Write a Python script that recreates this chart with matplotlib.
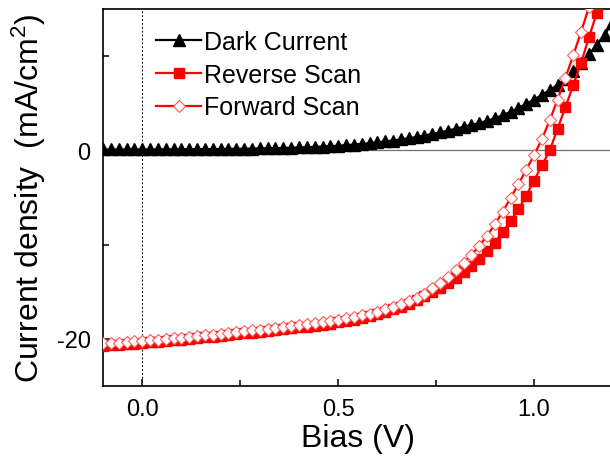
import matplotlib
matplotlib.use("Agg")
import matplotlib.pyplot as plt
from matplotlib.ticker import MultipleLocator

plt.rcParams['font.family'] = ['Liberation Sans', 'DejaVu Sans']
plt.rcParams['mathtext.fontset'] = 'custom'
plt.rcParams['mathtext.rm'] = 'Liberation Sans'
plt.rcParams['mathtext.it'] = 'Liberation Sans'
plt.rcParams['axes.unicode_minus'] = False

# bias grid (V)
bias = [-0.10, -0.08, -0.06, -0.04, -0.02, 0.00, 0.02, 0.04, 0.06, 0.08,
        0.10, 0.12, 0.14, 0.16, 0.18, 0.20, 0.22, 0.24, 0.26, 0.28,
        0.30, 0.32, 0.34, 0.36, 0.38, 0.40, 0.42, 0.44, 0.46, 0.48,
        0.50, 0.52, 0.54, 0.56, 0.58, 0.60, 0.62, 0.64, 0.66, 0.68,
        0.70, 0.72, 0.74, 0.76, 0.78, 0.80, 0.82, 0.84, 0.86, 0.88,
        0.90, 0.92, 0.94, 0.96, 0.98, 1.00, 1.02, 1.04, 1.06, 1.08,
        1.10, 1.12, 1.14, 1.16, 1.18, 1.20]

# current density (mA/cm2)
dark = [0.10, 0.10, 0.10, 0.10, 0.10, 0.10, 0.10, 0.11, 0.11, 0.11,
        0.12, 0.12, 0.13, 0.13, 0.14, 0.15, 0.16, 0.17, 0.18, 0.19,
        0.21, 0.22, 0.24, 0.26, 0.28, 0.31, 0.34, 0.37, 0.41, 0.45,
        0.50, 0.56, 0.62, 0.69, 0.77, 0.86, 0.95, 1.05, 1.16, 1.28,
        1.42, 1.58, 1.75, 1.92, 2.10, 2.30, 2.50, 2.70, 2.90, 3.15,
        3.40, 3.75, 4.10, 4.50, 4.95, 5.40, 5.90, 6.40, 6.95, 7.60,
        8.40, 9.30, 10.20, 11.20, 12.30, 13.50]

reverse = [-20.75, -20.70, -20.64, -20.58, -20.52, -20.45, -20.38, -20.31, -20.24, -20.17,
           -20.10, -20.02, -19.94, -19.86, -19.78, -19.70, -19.61, -19.52, -19.43, -19.34,
           -19.25, -19.16, -19.07, -18.98, -18.89, -18.80, -18.70, -18.60, -18.49, -18.38,
           -18.26, -18.12, -17.97, -17.80, -17.61, -17.40, -17.16, -16.89, -16.59, -16.26,
           -15.90, -15.50, -15.06, -14.58, -14.06, -13.50, -12.90, -12.25, -11.50, -10.70,
           -9.80, -8.70, -7.50, -6.25, -4.80, -3.20, -1.60, 0.00, 2.30, 4.60,
           6.90, 9.30, 12.00, 14.60, 17.50]

forward = [-20.50, -20.45, -20.40, -20.34, -20.28, -20.22, -20.15, -20.08, -20.01, -19.94,
           -19.87, -19.79, -19.71, -19.63, -19.55, -19.47, -19.38, -19.29, -19.20, -19.11,
           -19.02, -18.93, -18.84, -18.75, -18.65, -18.55, -18.45, -18.34, -18.23, -18.11,
           -17.98, -17.84, -17.69, -17.52, -17.33, -17.12, -16.88, -16.61, -16.31, -15.98,
           -15.62, -15.20, -14.65, -14.05, -13.40, -12.70, -11.95, -11.10, -10.15, -9.05,
           -7.85, -6.50, -5.05, -3.60, -2.05, -0.50, 1.20, 3.20, 5.40, 7.70,
           10.10, 12.60, 15.20]

fig = plt.figure(figsize=(6.1, 4.6), dpi=100)
ax = fig.add_axes([0.169, 0.159, 0.835, 0.819])

ax.axhline(0, color='#707070', lw=0.9, zorder=1)
ax.axvline(0, color='black', lw=0.7, ls=(0, (2, 2)), zorder=1)

ax.plot(bias, dark, color='black', lw=1.6, marker='^', ms=8,
        label='Dark Current', zorder=3)
ax.plot(bias[:len(reverse)], reverse, color='red', lw=1.6, marker='s', ms=6.5,
        label='Reverse Scan', zorder=3)
ax.plot(bias[:len(forward)], forward, color='red', lw=1.6, marker='D', ms=6.5,
        mfc='white', mec='#ff5a5a', mew=0.8, label='Forward Scan', zorder=4)

ax.set_xlim(-0.1, 1.2)
ax.set_ylim(-25, 15)
ax.xaxis.set_major_locator(MultipleLocator(0.5))
ax.xaxis.set_minor_locator(MultipleLocator(0.25))
ax.yaxis.set_major_locator(MultipleLocator(20))
ax.yaxis.set_minor_locator(MultipleLocator(10))
ax.tick_params(which='both', direction='in', width=1.1, labelsize=17, pad=9)
ax.tick_params(which='major', length=5)
ax.tick_params(which='minor', length=4)
ax.tick_params(axis='y', which='both', right=False)
for s in ax.spines.values():
    s.set_linewidth(1.2)
ax.spines['right'].set_visible(False)

ax.set_xlabel('Bias (V)', fontsize=23, labelpad=2)
ax.set_ylabel('Current density  (mA/cm$^2$)', fontsize=23, labelpad=6)

ax.legend(loc='upper left', bbox_to_anchor=(0.075, 0.985), frameon=False,
          fontsize=18, handlelength=1.8, handletextpad=0.1, labelspacing=0.35,
          borderaxespad=0.2)

fig.savefig('out.png', dpi=100)
